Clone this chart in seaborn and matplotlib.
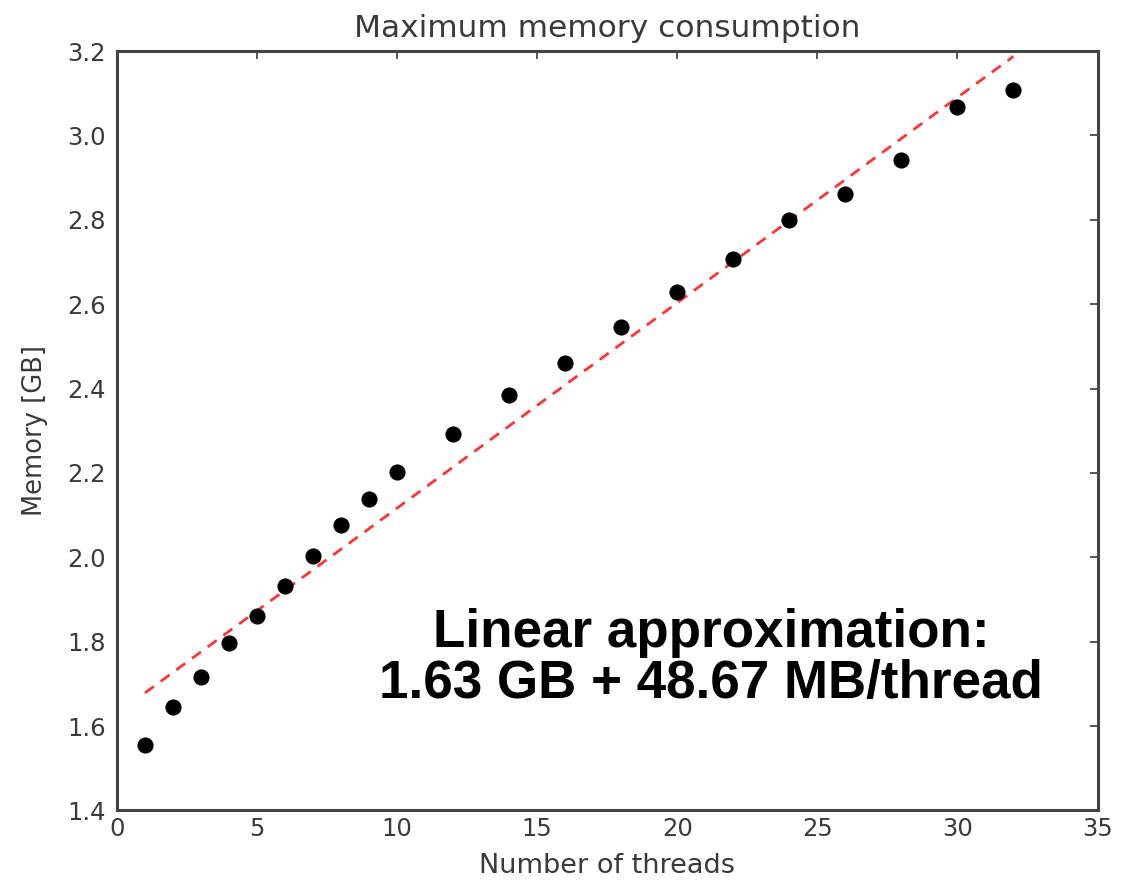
import numpy as np
import pandas as pd
import matplotlib
matplotlib.use("Agg")
import matplotlib.pyplot as plt
import seaborn as sns

# Data
threads = [1, 2, 3, 4, 5, 6, 7, 8, 9, 10, 12, 14, 16, 18, 20, 22, 24, 26, 28, 30, 32]
memory_gb = [1.555, 1.645, 1.716, 1.797, 1.860, 1.931, 2.002, 2.076, 2.139, 2.203,
             2.293, 2.385, 2.460, 2.545, 2.628, 2.708, 2.800, 2.862, 2.942, 3.067, 3.107]
fit_intercept_gb = 1.63
fit_slope_gb = 0.04867
fit_x = [1, 32]
fit_y = [fit_intercept_gb + fit_slope_gb * x for x in fit_x]

x_ticks = [0, 5, 10, 15, 20, 25, 30, 35]
y_ticks = [1.4, 1.6, 1.8, 2.0, 2.2, 2.4, 2.6, 2.8, 3.0, 3.2]

sns.set_style("white")
plt.rcParams['font.family'] = ['DejaVu Sans']

fig = plt.figure(figsize=(11.35, 8.8), dpi=100)
ax = fig.add_axes([0.103, 0.079, 0.864, 0.863])

df = pd.DataFrame({"threads": threads, "memory": memory_gb})
fit_df = pd.DataFrame({"x": fit_x, "y": fit_y})

sns.lineplot(data=fit_df, x="x", y="y", ax=ax, color="#ff3333", linewidth=2.0,
             linestyle=(0, (4, 3)), zorder=2)
sns.scatterplot(data=df, x="threads", y="memory", ax=ax, color="black", s=135,
                edgecolor="black", linewidth=0, zorder=3)

ax.set_xlim(0, 35)
ax.set_ylim(1.4, 3.2)
ax.set_xticks(x_ticks)
ax.set_yticks(y_ticks)
ax.set_yticklabels([f"{v:.1f}" for v in y_ticks])

text_color = "#3a3a3a"
ax.tick_params(axis="both", direction="in", length=6, width=1.2, top=True, right=True,
               labelsize=17.5, colors=text_color)
ax.tick_params(axis="x", pad=5)
ax.tick_params(axis="y", pad=8)
for sp in ax.spines.values():
    sp.set_color("#444444")
    sp.set_linewidth(2.2)
    sp.set_visible(True)

ax.set_xlabel("Number of threads", fontsize=19.5, color=text_color, labelpad=8)
ax.set_ylabel("Memory [GB]", fontsize=18.5, color=text_color, labelpad=14)
ax.set_title("Maximum memory consumption", fontsize=22.5, color=text_color, pad=10)

ax.text(21.2, 1.76, "Linear approximation:\n1.63 GB + 48.67 MB/thread",
        ha="center", va="center", fontsize=38.2, fontweight="bold",
        family=["Liberation Sans"], color="black", linespacing=1.03)

fig.savefig("out.png", dpi=100)
